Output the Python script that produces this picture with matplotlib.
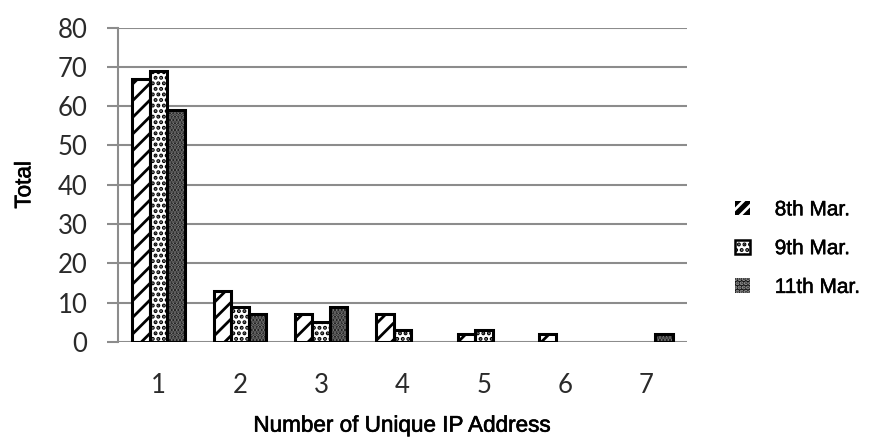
import numpy as np
import matplotlib
matplotlib.use("Agg")
import matplotlib.pyplot as plt
from matplotlib.patches import Patch
import matplotlib.patheffects as pe

categories = ["1", "2", "3", "4", "5", "6", "7"]
series_names = ["8th Mar.", "9th Mar.", "11th Mar."]
mar8 = [67, 13, 7, 7, 2, 2, 0]
mar9 = [69, 9, 5, 3, 3, 0, 0]
mar11 = [59, 7, 9, 0, 0, 0, 2]
y_ticks = [0, 10, 20, 30, 40, 50, 60, 70, 80]

plt.rcParams["hatch.linewidth"] = 2.0

# face colour, hatch pattern, hatch colour for each series
styles = [
    ("white", "//", "black"),
    ("white", "...", "black"),
    ("#0d0d0d", ".....", "#7a7a7a"),
]

fig = plt.figure(figsize=(8.79, 4.44), dpi=100)
ax = fig.add_axes([0.1342, 0.2297, 0.6474, 0.7083])

x = np.arange(len(categories))
width = 0.215
offsets = [-width, 0.0, width]
grid_color = "#8c8c8c"

for vals, off, (fc, hatch, hc) in zip([mar8, mar9, mar11], offsets, styles):
    vals = np.asarray(vals, dtype=float)
    keep = vals > 0
    ax.bar(x[keep] + off, vals[keep], width, color=fc, edgecolor=hc,
           hatch=hatch, linewidth=0, zorder=3)
    ax.bar(x[keep] + off, vals[keep], width, fill=False, edgecolor="black",
           linewidth=2.2, zorder=4)

ax.set_xlim(-0.5, len(categories) - 0.5)
ax.set_ylim(0, 80)
ax.set_yticks(y_ticks)
ax.set_xticks(x)
ax.set_xticklabels(categories)

ax.yaxis.grid(True, color=grid_color, linewidth=1.5, zorder=0)
ax.set_axisbelow(True)
for s in ["top", "right", "bottom"]:
    ax.spines[s].set_visible(False)
ax.spines["left"].set_color(grid_color)
ax.spines["left"].set_linewidth(1.5)

ax.tick_params(axis="y", length=8, width=1.5, color=grid_color, pad=14)
ax.tick_params(axis="x", length=0, pad=22)
for lab in ax.get_yticklabels() + ax.get_xticklabels():
    lab.set_fontfamily(["Lato", "DejaVu Sans"])
    lab.set_fontsize(18.5)
    lab.set_color("#2a2a2a")

# slightly heavier strokes for the label text
heavy = [pe.withStroke(linewidth=0.45, foreground="black")]

label_font = dict(family=["Liberation Sans", "DejaVu Sans"], size=16.2, color="black")
xl = ax.set_xlabel("Number of Unique IP Address", labelpad=13, **label_font)
yl = ax.set_ylabel("Total", labelpad=16, **label_font)
xl.set_path_effects(heavy)
yl.set_path_effects(heavy)

handles = [
    Patch(facecolor="black", edgecolor="white", hatch="///", linewidth=0),
    Patch(facecolor="white", edgecolor="black", hatch="...", linewidth=1.8),
    Patch(facecolor="#111111", edgecolor="#999999", hatch="....", linewidth=0),
]
leg = fig.legend(handles, series_names, loc="center left",
                 bbox_to_anchor=(0.815, 0.44), frameon=False,
                 handlelength=0.7, handleheight=0.7, handletextpad=1.2,
                 labelspacing=0.95,
                 prop={"family": ["Liberation Sans", "DejaVu Sans"], "size": 15})
for t in leg.get_texts():
    t.set_color("black")
    t.set_path_effects([pe.withStroke(linewidth=0.35, foreground="black")])

fig.savefig("out.png", dpi=100)
